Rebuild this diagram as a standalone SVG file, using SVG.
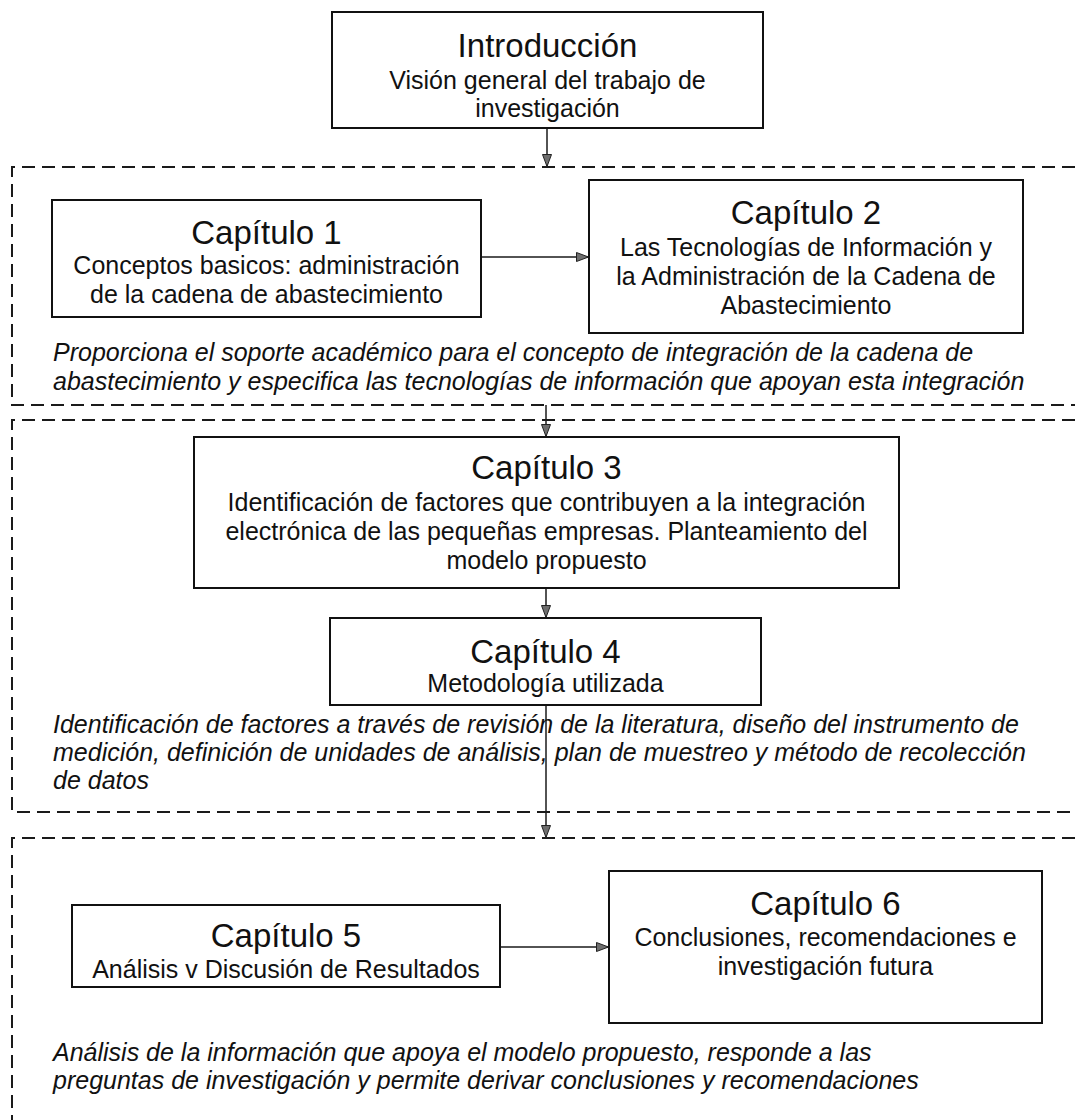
<svg xmlns="http://www.w3.org/2000/svg" width="1075" height="1120" viewBox="0 0 1075 1120">
  <style>
    .box { fill: #ffffff; stroke: #111111; stroke-width: 2; }
    .frame { fill: none; stroke: #1a1a1a; stroke-width: 2; stroke-dasharray: 13 7; }
    .link { fill: none; stroke: #1a1a1a; stroke-width: 1.5; marker-end: url(#head); }
    text { font-family: "Liberation Sans", Arial, sans-serif; fill: #111111; text-anchor: middle; }
    .title { font-size: 33px; }
    .sub { font-size: 25px; }
    .note { font-size: 25px; font-style: italic; text-anchor: start; }
  </style>
  <defs>
    <marker id="head" viewBox="0 0 13 10" refX="13" refY="5" markerWidth="13" markerHeight="10" markerUnits="userSpaceOnUse" orient="auto">
      <path d="M0.5,0.5 L12.5,5 L0.5,9.5 Z" fill="#6e6e6e" stroke="#222222" stroke-width="1"/>
    </marker>
  </defs>
  <rect width="1075" height="1120" fill="#ffffff"/>

  <!-- dashed section frames (open on the right) -->
  <g id="sections">
    <path class="frame" d="M1075,167 H12 V405 H1075"/>
    <path class="frame" d="M1075,420 H12 V812 H1075"/>
    <path class="frame" d="M1075,838 H12 V1120"/>
  </g>

  <!-- connectors -->
  <g id="connectors">
    <path class="link" d="M547,128 V167"/>
    <path class="link" d="M481,257 H589"/>
    <path class="link" d="M546,405 V437"/>
    <path class="link" d="M546,588 V618"/>
    <path class="link" d="M546,705 V838"/>
    <path class="link" d="M500,947 H609"/>
  </g>

  <g id="intro">
    <rect class="box" x="332" y="12" width="431" height="116"/>
    <text class="title" x="547.5" y="57">Introducción</text>
    <text class="sub" x="547.5" y="89">Visión general del trabajo de</text>
    <text class="sub" x="547.5" y="117">investigación</text>
  </g>

  <g id="cap1">
    <rect class="box" x="52" y="200" width="429" height="117"/>
    <text class="title" x="266.5" y="244">Capítulo 1</text>
    <text class="sub" x="266.5" y="274">Conceptos basicos: administración</text>
    <text class="sub" x="266.5" y="303">de la cadena de abastecimiento</text>
  </g>

  <g id="cap2">
    <rect class="box" x="589" y="180" width="434" height="153"/>
    <text class="title" x="806" y="224">Capítulo 2</text>
    <text class="sub" x="806" y="256">Las Tecnologías de Información y</text>
    <text class="sub" x="806" y="285">la Administración de la Cadena de</text>
    <text class="sub" x="806" y="314">Abastecimiento</text>
  </g>

  <g id="note1">
    <text class="note" x="53" y="361">Proporciona el soporte académico para el concepto de integración de la cadena de</text>
    <text class="note" x="53" y="390">abastecimiento y especifica las tecnologías de información que apoyan esta integración</text>
  </g>

  <g id="cap3">
    <rect class="box" x="194" y="437" width="705" height="151"/>
    <text class="title" x="546.5" y="479">Capítulo 3</text>
    <text class="sub" x="546.5" y="511">Identificación de factores que contribuyen a la integración</text>
    <text class="sub" x="546.5" y="540">electrónica de las pequeñas empresas. Planteamiento del</text>
    <text class="sub" x="546.5" y="569">modelo propuesto</text>
  </g>

  <g id="cap4">
    <rect class="box" x="330" y="618" width="431" height="87"/>
    <text class="title" x="545.5" y="663">Capítulo 4</text>
    <text class="sub" x="545.5" y="692">Metodología utilizada</text>
  </g>

  <g id="note2">
    <text class="note" x="53" y="733">Identificación de factores a través de revisión de la literatura, diseño del instrumento de</text>
    <text class="note" x="53" y="761">medición, definición de unidades de análisis, plan de muestreo y método de recolección</text>
    <text class="note" x="53" y="789">de datos</text>
  </g>

  <g id="cap5">
    <rect class="box" x="72" y="905" width="428" height="82"/>
    <text class="title" x="286" y="947">Capítulo 5</text>
    <text class="sub" x="286" y="978">Análisis v Discusión de Resultados</text>
  </g>

  <g id="cap6">
    <rect class="box" x="609" y="871" width="433" height="152"/>
    <text class="title" x="825.5" y="915">Capítulo 6</text>
    <text class="sub" x="825.5" y="946">Conclusiones, recomendaciones e</text>
    <text class="sub" x="825.5" y="975">investigación futura</text>
  </g>

  <g id="note3">
    <text class="note" x="53" y="1061">Análisis de la información que apoya el modelo propuesto, responde a las</text>
    <text class="note" x="53" y="1089">preguntas de investigación y permite derivar conclusiones y recomendaciones</text>
  </g>
</svg>
